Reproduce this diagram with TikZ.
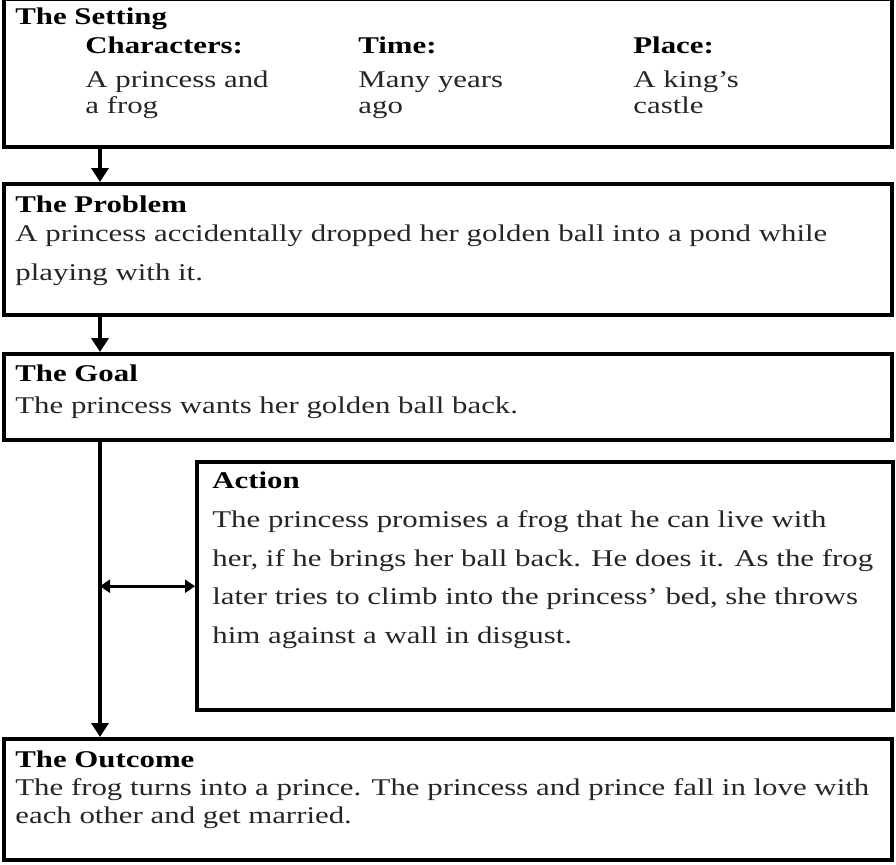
\documentclass[tikz,border=0pt]{standalone}
\usepackage{fontspec}
\setmainfont{Liberation Serif}[FakeStretch=1.285]
\usetikzlibrary{arrows.meta}

\tikzset{
  box/.style={draw, line width=2.2pt, anchor=north west, inner sep=0pt},
  head/.style={anchor=base west, inner sep=0pt, font=\fontsize{12}{14}\selectfont\bfseries},
  body/.style={anchor=base west, inner sep=0pt, align=left, text=black!85},
  flow/.style={line width=2.4pt, -{Triangle[length=7pt,width=8.5pt]}},
  link/.style={line width=1.6pt, {Triangle[length=5pt,width=6.5pt]}-{Triangle[length=5pt,width=6.5pt]}}
}

\begin{document}
\begin{tikzpicture}[x=0.5pt, y=-0.5pt, font=\fontsize{12}{14}\selectfont]
\useasboundingbox (0,0) rectangle (896,864);

% the boxes
\node[box, minimum width=444pt, minimum height=74pt] (setting) at (2,-3) {};
\node[box, minimum width=444pt, minimum height=65.5pt] (problem) at (2,182) {};
\node[box, minimum width=444pt, minimum height=43pt] (goal) at (2,352) {};
\node[box, minimum width=348pt, minimum height=124pt] (action) at (195,460) {};
\node[box, minimum width=444pt, minimum height=60.5pt] (outcome) at (2,737) {};

% the setting (multi-line texts sit on the baseline of their last line)
\node[head] (setting title) at (15,24) {The Setting};
\node[head] (characters) at (85,53) {Characters:};
\node[head] (time) at (358,53) {Time:};
\node[head] (place) at (633,53) {Place:};
\node[body, font=\fontsize{12}{13}\selectfont] (characters text) at (85,113) {A princess and\\a frog};
\node[body, font=\fontsize{12}{13}\selectfont] (time text) at (358,113) {Many years\\ago};
\node[body, font=\fontsize{12}{13}\selectfont] (place text) at (633,113) {A king’s\\castle};

% problem, goal, action, outcome
\node[head] (problem title) at (15,212) {The Problem};
\node[body, font=\fontsize{12}{19.25}\selectfont] (problem text) at (15,280)
  {A princess accidentally dropped her golden ball into a pond while\\playing with it.};
\node[head] (goal title) at (15,381) {The Goal};
\node[body] (goal text) at (15,413) {The princess wants her golden ball back.};
\node[head] (action title) at (212,488) {Action};
\node[body, font=\fontsize{12}{19.25}\selectfont] (action text) at (212,643)
  {The princess promises a frog that he can live with\\
   her, if he brings her ball back. He does it. As the frog\\
   later tries to climb into the princess’ bed, she throws\\
   him against a wall in disgust.};
\node[head] (outcome title) at (15,767) {The Outcome};
\node[body] (outcome text) at (15,823)
  {The frog turns into a prince. The princess and prince fall in love with\\
   each other and get married.};

% connectors
\coordinate (spine) at (100,0);
\draw[flow] (setting.south -| spine) -- (problem.north -| spine);
\draw[flow] (problem.south -| spine) -- (goal.north -| spine);
\draw[flow] (goal.south -| spine) -- (outcome.north -| spine);
\draw[link] (spine |- action.west) -- (action.west);
\end{tikzpicture}
\end{document}
